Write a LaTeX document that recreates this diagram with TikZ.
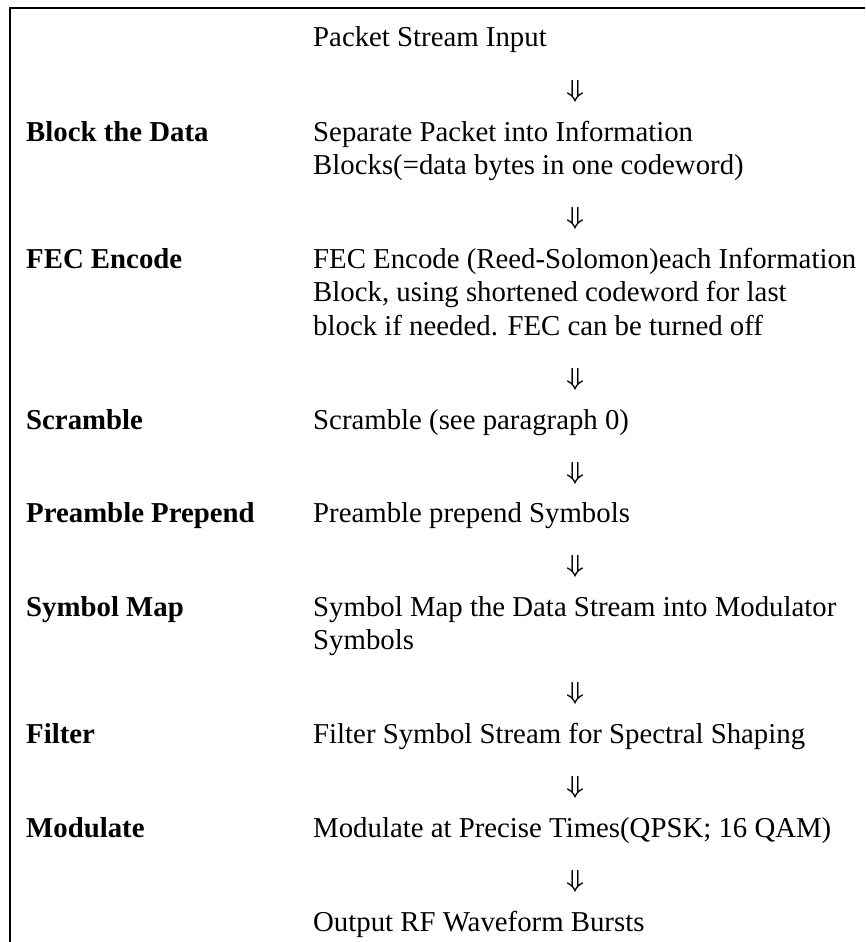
\documentclass[tikz,border=0pt]{standalone}
\usepackage{fontspec}
\setmainfont{Liberation Serif}
\begin{document}
\begin{tikzpicture}[x=1pt,y=-1pt,
  txt/.style={anchor=base west,inner sep=0pt,font=\fontsize{28.8}{33.4}\selectfont},
  lbl/.style={anchor=base west,inner sep=0pt,font=\fontsize{28.8}{33.4}\selectfont\bfseries},
  arr/.style={anchor=center,inner sep=0pt,font=\fontsize{28}{30}\selectfont\boldmath}]
\useasboundingbox (0,0) rectangle (865,942);
\draw[line width=2pt] (10,942) -- (10,7.7) -- (865,7.7);
\node[txt] (in)   at (313,47)    {Packet Stream Input};
\node[arr] (a1)   at (575,91)    {$\Downarrow$};
\node[lbl] (l1)   at (26,141)    {Block the Data};
\node[txt] (b1)   at (313,141)   {Separate Packet into Information};
\node[txt] (b2)   at (313,174.5) {Blocks(=data bytes in one codeword)};
\node[arr] (a2)   at (575,218.5) {$\Downarrow$};
\node[lbl] (l2)   at (26,268)    {FEC Encode};
\node[txt] (f1)   at (313,268)   {FEC Encode (Reed-Solomon)each Information};
\node[txt] (f2)   at (313,301.5) {Block, using shortened codeword for last};
\node[txt] (f3)   at (313,335)   {block if needed. FEC can be turned off};
\node[arr] (a3)   at (575,379)   {$\Downarrow$};
\node[lbl] (l3)   at (26,429)    {Scramble};
\node[txt] (s1)   at (313,429)   {Scramble (see paragraph 0)};
\node[arr] (a4)   at (575,473)   {$\Downarrow$};
\node[lbl] (l4)   at (26,522.5)  {Preamble Prepend};
\node[txt] (p1)   at (313,522.5) {Preamble prepend Symbols};
\node[arr] (a5)   at (575,566.5) {$\Downarrow$};
\node[lbl] (l5)   at (26,616)    {Symbol Map};
\node[txt] (m1)   at (313,616)   {Symbol Map the Data Stream into Modulator};
\node[txt] (m2)   at (313,649.5) {Symbols};
\node[arr] (a6)   at (575,693.5) {$\Downarrow$};
\node[lbl] (l6)   at (26,743.5)  {Filter};
\node[txt] (r1)   at (313,743.5) {Filter Symbol Stream for Spectral Shaping};
\node[arr] (a7)   at (575,787.5) {$\Downarrow$};
\node[lbl] (l7)   at (26,837)    {Modulate};
\node[txt] (q1)   at (313,837)   {Modulate at Precise Times(QPSK; 16 QAM)};
\node[arr] (a8)   at (575,881)   {$\Downarrow$};
\node[txt] (out)  at (313,931)   {Output RF Waveform Bursts};
\end{tikzpicture}
\end{document}
